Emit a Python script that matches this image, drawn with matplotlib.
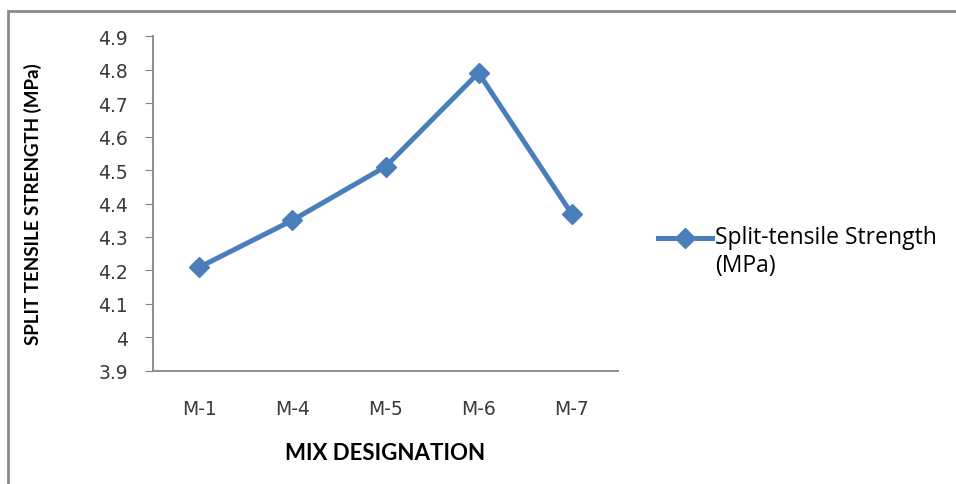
import matplotlib
matplotlib.use("Agg")
from matplotlib import pyplot as plt
from matplotlib.patches import Rectangle
from matplotlib.legend_handler import HandlerLine2D
import numpy as np

# split tensile strength for each mix
mixes = ["M-1", "M-4", "M-5", "M-6", "M-7"]
strength = [4.21, 4.35, 4.51, 4.79, 4.37]
y_ticks = [3.9, 4.0, 4.1, 4.2, 4.3, 4.4, 4.5, 4.6, 4.7, 4.8, 4.9]
y_tick_labels = ["3.9", "4", "4.1", "4.2", "4.3", "4.4", "4.5", "4.6", "4.7", "4.8", "4.9"]

line_color = "#4a7ebb"
axis_color = "#868686"


class RaisedLineHandler(HandlerLine2D):
    # moves the legend sample up so it lines up with the first label line
    def __init__(self, shift, **kw):
        super().__init__(**kw)
        self.shift = shift

    def create_artists(self, legend, orig_handle, xdescent, ydescent,
                       width, height, fontsize, trans):
        artists = super().create_artists(legend, orig_handle, xdescent, ydescent,
                                         width, height, fontsize, trans)
        for a in artists:
            a.set_ydata(np.asarray(a.get_ydata()) + self.shift * fontsize)
        return artists


fig = plt.figure(figsize=(9.56, 4.85), dpi=100)
ax = fig.add_axes([0.160, 0.233, 0.4865, 0.6907])

x = np.arange(len(mixes))
line, = ax.plot(x, strength, color=line_color, lw=3.6, marker="D", markersize=10.5,
                label="Split-tensile Strength\n(MPa)")

ax.set_xlim(-0.5, len(mixes) - 0.5)
ax.set_ylim(3.9, 4.9)
ax.set_yticks(y_ticks)
ax.set_yticklabels(y_tick_labels, fontsize=13.5, color="#3a3a3a", family="DejaVu Sans")
ax.set_xticks(x)
ax.set_xticklabels(mixes, fontsize=13.5, color="#3a3a3a", family="DejaVu Sans")
ax.tick_params(axis="y", direction="out", length=6, color=axis_color, pad=12)
ax.tick_params(axis="x", length=0, pad=20)

for side in ["top", "right"]:
    ax.spines[side].set_visible(False)
for side in ["left", "bottom"]:
    ax.spines[side].set_color(axis_color)
    ax.spines[side].set_linewidth(1.3)

ax.set_ylabel("SPLIT TENSILE STRENGTH (MPa)", fontsize=13.5, fontweight="bold",
              family="Lato")
ax.yaxis.set_label_coords(-0.239, 0.5)
ax.set_xlabel("MIX DESIGNATION", fontsize=16, fontweight="bold", family="Lato")
ax.xaxis.set_label_coords(0.5, -0.212)

leg = ax.legend(loc="center left", bbox_to_anchor=(1.086, 0.358), frameon=False,
                prop={"family": "Open Sans", "size": 16.5}, handlelength=2.35,
                handletextpad=0.12, borderpad=0, borderaxespad=0,
                handler_map={line: RaisedLineHandler(0.62)})

# outer chart border
fig.patches.append(Rectangle((8 / 956, -0.1), 1.0, 0.975 + 0.1,
                             transform=fig.transFigure, fill=False,
                             edgecolor="#8a8a8a", linewidth=2))

fig.savefig("out.png", dpi=100)
